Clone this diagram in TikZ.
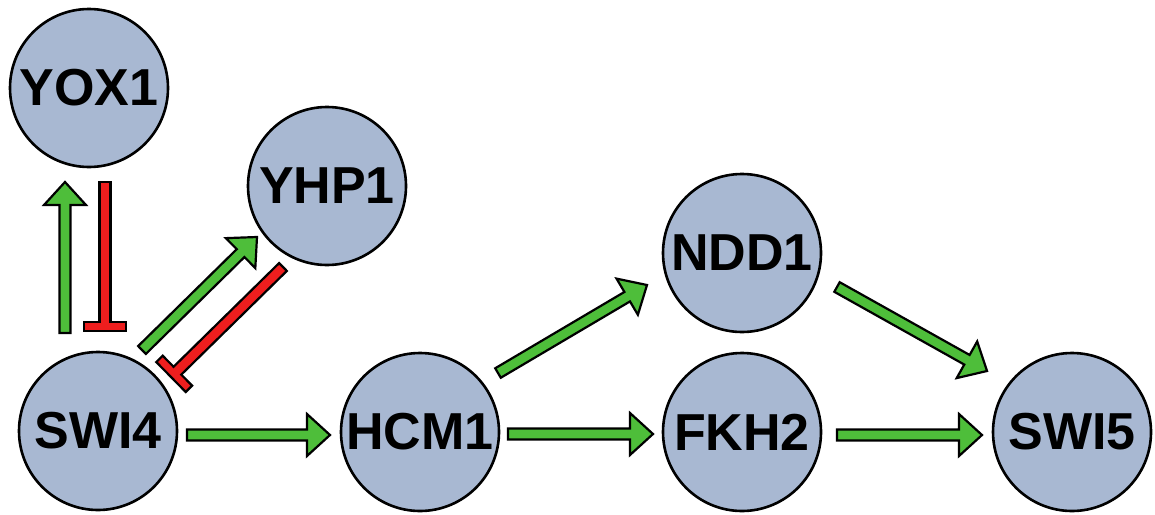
\documentclass[tikz,border=0pt]{standalone}
\usepackage{fontspec}
\setmainfont{Liberation Sans}
\usetikzlibrary{calc}
\definecolor{nodefill}{RGB}{168,184,210}
\definecolor{actgreen}{RGB}{78,190,58}
\definecolor{inhred}{RGB}{238,30,30}
\tikzset{
  gene/.style={circle, draw=black, line width=2.6pt, fill=nodefill, minimum size=158pt, inner sep=0pt,
    font=\fontsize{52}{52}\selectfont\bfseries},
  actshape/.style={draw=black, fill=actgreen, line width=2.2pt, line join=miter},
  inhshape/.style={draw=black, fill=inhred, line width=2.2pt, line join=miter},
}
% block activation arrow from #1 to #2
\newcommand\actarrow[2]{%
  \coordinate (ba-s) at #1;
  \coordinate (ba-e) at #2;
  \coordinate (ba-h) at ($(ba-e)!23pt!(ba-s)$);
  \draw[actshape] ($(ba-s)!5.5pt!90:(ba-e)$) -- ($(ba-h)!5.5pt!-90:(ba-s)$) -- ($(ba-h)!21pt!-90:(ba-s)$)
     -- (ba-e) -- ($(ba-h)!21pt!90:(ba-s)$) -- ($(ba-h)!5.5pt!90:(ba-s)$) -- ($(ba-s)!5.5pt!-90:(ba-e)$) -- cycle;
}
% block inhibition bar from #1 to #2
\newcommand\inharrow[2]{%
  \coordinate (bi-s) at #1;
  \coordinate (bi-e) at #2;
  \coordinate (bi-b) at ($(bi-e)!9pt!(bi-s)$);
  \draw[inhshape] ($(bi-s)!5.5pt!90:(bi-e)$) -- ($(bi-b)!5.5pt!-90:(bi-s)$) -- ($(bi-b)!21pt!-90:(bi-s)$)
     -- ($(bi-e)!21pt!-90:(bi-s)$) -- ($(bi-e)!21pt!90:(bi-s)$) -- ($(bi-b)!21pt!90:(bi-s)$)
     -- ($(bi-b)!5.5pt!90:(bi-s)$) -- ($(bi-s)!5.5pt!-90:(bi-e)$) -- cycle;
}
\begin{document}
\begin{tikzpicture}[x=1pt,y=-1pt]
\useasboundingbox (0,0) rectangle (1155,514);
\node[gene] (yox1) at (89,88) {YOX1};
\node[gene] (swi4) at (98,431) {SWI4};
\node[gene] (yhp1) at (327,186) {YHP1};
\node[gene] (hcm1) at (420,432) {HCM1};
\node[gene] (ndd1) at (742,253) {NDD1};
\node[gene] (fkh2) at (742,432) {FKH2};
\node[gene] (swi5) at (1072,432) {SWI5};

\actarrow{($(swi4)+(-33,-98)$)}{($(yox1)+(-24,94)$)}
\inharrow{($(yox1)+(16,94)$)}{($(swi4)+(7,-100)$)}
\actarrow{($(swi4)+(44,-81)$)}{($(yhp1)+(-70,51)$)}
\inharrow{($(yhp1)+(-44,81)$)}{($(swi4)+(73,-54)$)}
\actarrow{($(swi4)+(89,4)$)}{($(hcm1)+(-90,3)$)}
\actarrow{($(hcm1)+(88,2)$)}{($(fkh2)+(-89,2)$)}
\actarrow{($(fkh2)+(95,3)$)}{($(swi5)+(-90,3)$)}
\actarrow{($(hcm1)+(78,-59)$)}{($(ndd1)+(-95,32)$)}
\actarrow{($(ndd1)+(95,34)$)}{($(swi5)+(-85,-61)$)}
\end{tikzpicture}
\end{document}
